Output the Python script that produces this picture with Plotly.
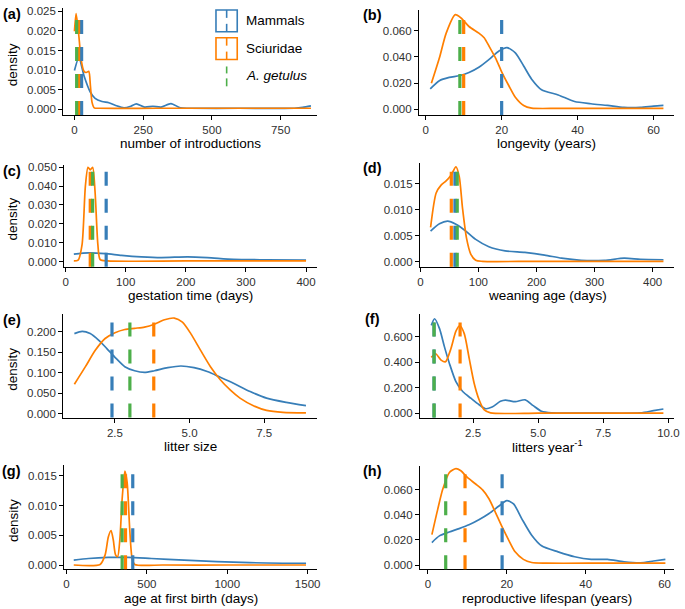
import plotly.graph_objects as go

# ---------------- data ----------------
# (a) number of introductions
a_mam_x = [0, 16, 35, 57, 75, 100, 125, 150, 180, 205, 225, 255, 285, 315, 351, 385, 420, 600, 800, 830, 860]
a_mam_y = [0.0099, 0.0132, 0.0085, 0.0045, 0.0028, 0.0020, 0.0017, 0.0010, 0.0004, 0.0008, 0.0014, 0.0006,
           0.0008, 0.0006, 0.0015, 0.0004, 0.0003, 0.0003, 0.0003, 0.0005, 0.0009]
a_sci_x = [0, 6, 16, 24, 34, 43, 52, 58, 64, 72, 90, 300, 600, 860]
a_sci_y = [0.0199, 0.0244, 0.0187, 0.0128, 0.0098, 0.0094, 0.0097, 0.0060, 0.0018, 0.0004, 0.0003, 0.0003, 0.0003, 0.0003]

# (b) longevity (years)
b_mam_x = [1.2, 3.6, 6.2, 8.8, 11.4, 14, 16.7, 19.3, 21.4, 23.6, 25.8, 27.9, 30.5, 34.9, 39.2, 43.5, 47.9, 52.2, 56.5, 60, 62.6]
b_mam_y = [0.0156, 0.0218, 0.0243, 0.0256, 0.028, 0.032, 0.038, 0.0444, 0.047, 0.043, 0.033, 0.023, 0.015, 0.011,
           0.006, 0.0043, 0.003, 0.0015, 0.0015, 0.0025, 0.003]
b_sci_x = [1.5, 3.6, 5.4, 7.8, 9.3, 11.4, 14, 15.4, 16.7, 18.4, 20.1, 21.9, 23.6, 25.8, 27.9, 35, 50, 62.6]
b_sci_y = [0.0198, 0.039, 0.058, 0.072, 0.0695, 0.063, 0.058, 0.0545, 0.048, 0.039, 0.028, 0.018, 0.0093, 0.003,
           0.001, 0.0008, 0.0008, 0.0008]

# (c) gestation time (days)
c_mam_x = [13.7, 38, 66, 93, 126, 159, 203, 236, 279, 334, 400]
c_mam_y = [0.0039, 0.0046, 0.0042, 0.0033, 0.0025, 0.0021, 0.0025, 0.0021, 0.0012, 0.0009, 0.0007]
c_sci_x = [13.7, 20.8, 27.4, 32.9, 37.3, 41, 45, 49, 53.7, 57.5, 70, 200, 400]
c_sci_y = [0.0003, 0.0007, 0.009, 0.040, 0.050, 0.0486, 0.050, 0.037, 0.009, 0.001, 0.0003, 0.0003, 0.0003]

# (d) weaning age (days)
d_mam_x = [17.6, 32.9, 47, 61.3, 78.3, 95.3, 118, 146, 180, 214, 243, 277, 317, 351, 379, 418.7]
d_mam_y = [0.0059, 0.0073, 0.0078, 0.0072, 0.0059, 0.0043, 0.0029, 0.0021, 0.0018, 0.0013, 0.0007, 0.0003,
           0.0003, 0.0007, 0.0005, 0.0004]
d_sci_x = [17.6, 27.2, 35.7, 44.3, 52.8, 61.3, 67, 72.6, 79.4, 86.8, 95.3, 106.7, 200, 418.7]
d_sci_y = [0.0066, 0.0132, 0.0147, 0.0155, 0.0166, 0.0182, 0.0163, 0.0103, 0.0046, 0.0015, 0.0003, 0.0001, 0.0001, 0.0001]

# (e) litter size
e_mam_x = [1.14, 1.40, 1.67, 1.95, 2.22, 2.5, 2.83, 3.16, 3.49, 3.82, 4.27, 4.71, 5.15, 5.59, 6.03, 6.47, 7.03, 7.58, 8.24, 8.90]
e_mam_y = [0.196, 0.2016, 0.196, 0.18, 0.16, 0.138, 0.115, 0.105, 0.101, 0.105, 0.1125, 0.1166, 0.1125, 0.103,
           0.089, 0.0745, 0.054, 0.038, 0.0275, 0.0194]
e_sci_x = [1.14, 1.51, 1.84, 2.17, 2.5, 2.83, 3.16, 3.49, 3.82, 4.16, 4.49, 4.76, 5.04, 5.37, 5.70, 6.03, 6.36,
           6.69, 7.14, 7.58, 8.13, 8.90]
e_sci_y = [0.072, 0.115, 0.155, 0.184, 0.198, 0.206, 0.209, 0.212, 0.219, 0.23, 0.234, 0.224, 0.196, 0.155, 0.115,
           0.083, 0.058, 0.038, 0.0194, 0.008, 0.003, 0.0016]

# (f) litters per year
f_mam_x = [0.894, 1.02, 1.21, 1.40, 1.59, 1.84, 2.10, 2.41, 2.73, 2.98, 3.23, 3.55, 3.74, 4.12, 4.50, 4.81, 5.13,
           5.51, 7.0, 8.92, 9.43, 9.81]
f_mam_y = [0.691, 0.743, 0.665, 0.522, 0.392, 0.249, 0.171, 0.119, 0.0675, 0.036, 0.049, 0.094, 0.104, 0.091,
           0.106, 0.06, 0.0156, 0.003, 0.002, 0.003, 0.021, 0.034]
f_sci_x = [0.894, 1.06, 1.27, 1.44, 1.65, 1.84, 1.99, 2.16, 2.35, 2.54, 2.73, 2.92, 3.17, 5.0, 7.5, 9.81]
f_sci_y = [0.439, 0.468, 0.418, 0.405, 0.509, 0.645, 0.69, 0.626, 0.431, 0.236, 0.106, 0.0286, 0.003, 0.002, 0.002, 0.002]

# (g) age at first birth (days)
g_mam_x = [45, 137, 260, 383, 527, 732, 936, 1141, 1346, 1490]
g_mam_y = [0.00083, 0.0011, 0.00128, 0.00128, 0.0011, 0.00083, 0.00056, 0.0004, 0.0003, 0.0003]
g_sci_x = [45, 209, 240, 260, 277, 291, 305, 318, 332, 346, 363, 377, 393, 408, 424, 600, 1000, 1490]
g_sci_y = [0.0, 0.0001, 0.0017, 0.0047, 0.0058, 0.0042, 0.0017, 0.0014, 0.0044, 0.0111, 0.0158, 0.0139, 0.0061,
           0.0011, 0.0001, 0.0, 0.0, 0.0]

# (h) reproductive lifespan (years)
h_mam_x = [1.0, 2.9, 5.4, 7.9, 10.4, 12.9, 15.5, 18.0, 20.0, 21.7, 23.8, 26.3, 28.8, 33.0, 37.2, 41.4, 45.5, 49.7,
           53.9, 57.2, 60.2]
h_mam_y = [0.0179, 0.0232, 0.0263, 0.029, 0.032, 0.036, 0.041, 0.047, 0.0513, 0.0487, 0.0368, 0.0237, 0.0153,
           0.0105, 0.0066, 0.0045, 0.0045, 0.0026, 0.0018, 0.0032, 0.0045]
h_sci_x = [1.0, 2.5, 3.76, 5.43, 7.1, 8.35, 10.0, 12.1, 13.8, 15.5, 17.1, 18.8, 20.5, 22.1, 24.2, 26.3, 30, 45, 60.2]
h_sci_y = [0.0242, 0.0447, 0.0605, 0.0737, 0.0768, 0.075, 0.0697, 0.0645, 0.060, 0.0526, 0.042, 0.0303, 0.0197,
           0.0105, 0.0045, 0.002, 0.0015, 0.0015, 0.0015]

# medians (vertical dashed lines): Mammals, Sciuridae, A. getulus
med_mammals = [26, 20.0, 67.5, 59.6, 2.4, 1.0, 412, 18.8]
med_sciuridae = [15, 10.0, 41, 53.3, 3.8, 2.0, 367, 9.4]
val_getulus = [8, 9.0, 45, 63.5, 3.0, 1.0, 346, 4.5]

panel_tags = ["(a)", "(b)", "(c)", "(d)", "(e)", "(f)", "(g)", "(h)"]
x_titles = ["number of introductions", "longevity (years)", "gestation time (days)", "weaning age (days)",
            "litter size", "litters year<sup>-1</sup>", "age at first birth (days)", "reproductive lifespan (years)"]
x_ticks = [[0, 250, 500, 750], [0, 20, 40, 60], [0, 100, 200, 300, 400], [0, 100, 200, 300, 400],
           [2.5, 5.0, 7.5], [2.5, 5.0, 7.5, 10.0], [0, 500, 1000, 1500], [0, 20, 40, 60]]
y_ticks = [[0, 0.005, 0.010, 0.015, 0.020, 0.025], [0, 0.02, 0.04, 0.06], [0, 0.01, 0.02, 0.03, 0.04, 0.05],
           [0, 0.005, 0.010, 0.015], [0, 0.05, 0.10, 0.15, 0.20], [0, 0.2, 0.4, 0.6],
           [0, 0.005, 0.010, 0.015], [0, 0.02, 0.04, 0.06]]
legend_labels = ["Mammals", "Sciuridae", "A. getulus"]

mammals = [(a_mam_x, a_mam_y), (b_mam_x, b_mam_y), (c_mam_x, c_mam_y), (d_mam_x, d_mam_y),
           (e_mam_x, e_mam_y), (f_mam_x, f_mam_y), (g_mam_x, g_mam_y), (h_mam_x, h_mam_y)]
sciuridae = [(a_sci_x, a_sci_y), (b_sci_x, b_sci_y), (c_sci_x, c_sci_y), (d_sci_x, d_sci_y),
             (e_sci_x, e_sci_y), (f_sci_x, f_sci_y), (g_sci_x, g_sci_y), (h_sci_x, h_sci_y)]

# ---------------- layout geometry (pixels) ----------------
W, H = 685, 609
boxes = [(61, 318, 5, 113), (421, 679, 7, 113), (62, 318, 163, 266), (422, 679, 161, 266),
         (61, 318, 314, 418), (422, 679, 314, 418), (62, 318, 466, 571), (422, 679, 467, 571)]
x_ranges = [(-40.6, 883), (-1.74, 65.4), (-2.2, 418.7), (-0.5, 437), (0.768, 9.28), (0.463, 10.22),
            (-14, 1560), (-2.0, 62.4)]
y_ranges = [(-0.00144, 0.02583), (-0.0043, 0.0756), (-0.0028, 0.0514), (-0.00095, 0.019), (-0.0097, 0.243),
            (-0.0335, 0.777), (-0.00072, 0.01678), (-0.0034, 0.0787)]
x_fmt = ["", "", "", "", ".1f", ".1f", "", ""]

BLUE, ORANGE, GREEN = "#377EB8", "#FF7F00", "#4DAF4A"
FONT = "Liberation Sans, Arial, sans-serif"
DASH = "14px,13px"


def px(x):
    return x / W


def py(y):
    return 1 - y / H


fig = go.Figure()
layout = dict(width=W, height=H, margin=dict(l=0, r=0, t=0, b=0), showlegend=False,
              plot_bgcolor="white", paper_bgcolor="white", font=dict(family=FONT, color="black"))
shapes, annotations = [], []

for i in range(8):
    n = "" if i == 0 else str(i + 1)
    xa, ya = "x" + n, "y" + n
    x0, x1, y0, y1 = boxes[i]
    common = dict(showline=True, linecolor="black", linewidth=1.3, ticks="outside", ticklen=4,
                  tickcolor="black", tickwidth=1.2, showgrid=False, zeroline=False, fixedrange=True,
                  tickfont=dict(family=FONT, size=11.5, color="#303030"))
    layout["xaxis" + n] = dict(common, domain=[px(x0), px(x1)], anchor=ya, range=list(x_ranges[i]),
                               tickvals=x_ticks[i], tickformat=x_fmt[i])
    layout["yaxis" + n] = dict(common, domain=[py(y1), py(y0)], anchor=xa, range=list(y_ranges[i]),
                               tickvals=y_ticks[i], tickformat=".3f")

    mx, my = mammals[i]
    sx, sy = sciuridae[i]
    fig.add_trace(go.Scatter(x=mx, y=my, xaxis=xa, yaxis=ya, mode="lines", name=legend_labels[0],
                             line=dict(color=BLUE, width=1.7, shape="spline", smoothing=0.7)))
    fig.add_trace(go.Scatter(x=sx, y=sy, xaxis=xa, yaxis=ya, mode="lines", name=legend_labels[1],
                             line=dict(color=ORANGE, width=1.7, shape="spline", smoothing=0.7)))

    for val, col in ((med_mammals[i], BLUE), (med_sciuridae[i], ORANGE), (val_getulus[i], GREEN)):
        shapes.append(dict(type="line", xref=xa, yref=ya + " domain", x0=val, x1=val, y0=0, y1=1,
                           line=dict(color=col, width=3.2, dash=DASH), layer="above"))

    # panel tag
    tag_x = 9 if x0 < 200 else 374
    annotations.append(dict(text="<b>" + panel_tags[i] + "</b>", x=px(tag_x), y=py(y0 + 6 if x0 < 200 else y0 + 5),
                            xref="paper", yref="paper", showarrow=False, xanchor="center", yanchor="middle",
                            font=dict(size=14.5, family=FONT, color="black")))
    # x title
    annotations.append(dict(text=x_titles[i], x=px((x0 + x1) / 2), y=py(y1 + 29), xref="paper", yref="paper",
                            showarrow=False, xanchor="center", yanchor="middle",
                            font=dict(size=13.5, family=FONT, color="black")))
    # y title on left column
    if x0 < 200:
        annotations.append(dict(text="density", x=px(10), y=py((y0 + y1) / 2 + 3), xref="paper", yref="paper",
                                showarrow=False, xanchor="center", yanchor="middle", textangle=-90,
                                font=dict(size=13.5, family=FONT, color="black")))

# ---------------- legend (drawn in panel (a)) ----------------
for (top, col) in ((7, BLUE), (35, ORANGE)):
    shapes.append(dict(type="rect", xref="paper", yref="paper", x0=px(215.5), x1=px(237), y0=py(top + 22),
                       y1=py(top), line=dict(color=col, width=1.6), fillcolor="white", layer="above"))
    shapes.append(dict(type="line", xref="paper", yref="paper", x0=px(226.3), x1=px(226.3), y0=py(top),
                       y1=py(top + 8), line=dict(color=col, width=1.6), layer="above"))
    shapes.append(dict(type="line", xref="paper", yref="paper", x0=px(226.3), x1=px(226.3), y0=py(top + 14),
                       y1=py(top + 22), line=dict(color=col, width=1.6), layer="above"))
shapes.append(dict(type="line", xref="paper", yref="paper", x0=px(226.3), x1=px(226.3), y0=py(64),
                   y1=py(71), line=dict(color=GREEN, width=1.6), layer="above"))
shapes.append(dict(type="line", xref="paper", yref="paper", x0=px(226.3), x1=px(226.3), y0=py(76),
                   y1=py(84), line=dict(color=GREEN, width=1.6), layer="above"))
for lbl, yy in zip(legend_labels, (18, 46, 73)):
    txt = "<i>" + lbl + "</i>" if lbl.startswith("A.") else lbl
    annotations.append(dict(text=txt, x=px(244), y=py(yy), xref="paper", yref="paper", showarrow=False,
                            xanchor="left", yanchor="middle", font=dict(size=13.5, family=FONT, color="black")))

layout["shapes"] = shapes
layout["annotations"] = annotations
fig.update_layout(**layout)

fig.write_html("out.html", config={"displayModeBar": False},
               post_script="document.body.style.margin='0';")
